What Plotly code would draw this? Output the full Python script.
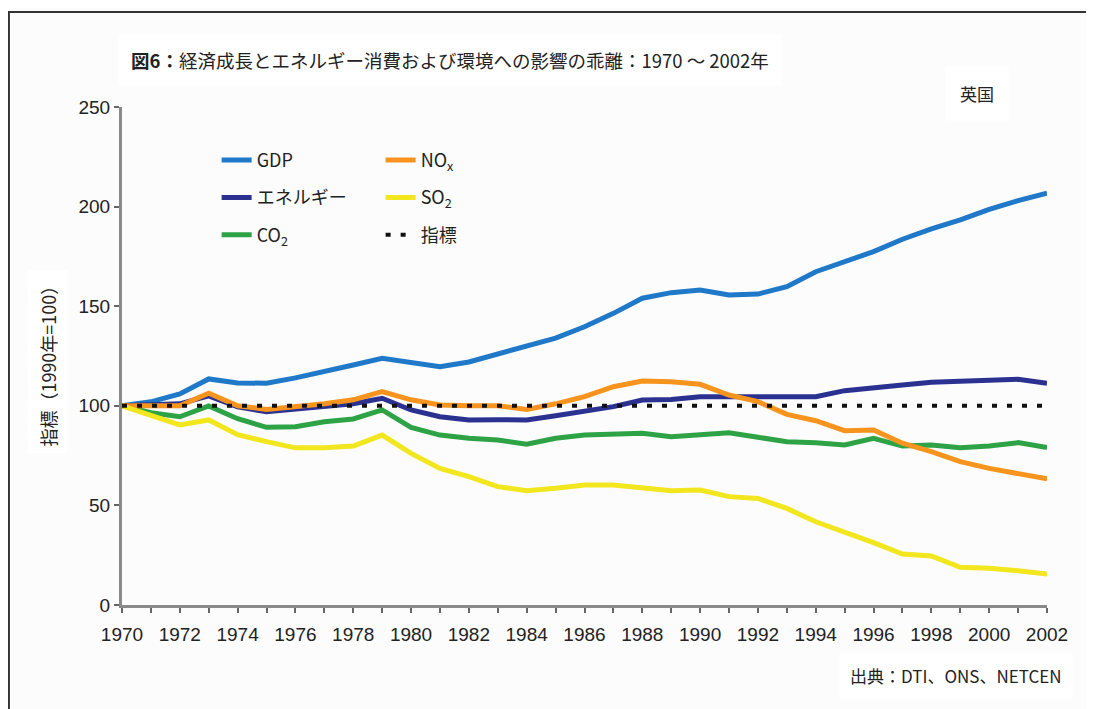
import plotly.graph_objects as go

years = list(range(1970, 2003))

gdp = [100, 102, 106, 113.5, 111.5, 111.3, 114, 117, 120.5, 123.8, 121.5, 119.6, 122, 126, 129.5, 134,
       139.7, 146.4, 154, 156.8, 158.1, 155.6, 156.1, 159.8, 167.3, 172.3, 177.4, 183.6, 188.8, 193.3,
       198.6, 203, 206.7]
energy = [100, 100.5, 101, 105, 99.5, 97, 98.5, 100, 101, 103.8, 97.9, 94.5, 92.9, 93, 92.9, 95,
          97, 99.6, 102.9, 103.2, 104.6, 104.6, 104.3, 104.9, 104.6, 107.6, 109.3, 110.4, 111.8, 112.1,
          113, 113.3, 111.3]
co2 = [100, 96.5, 94.5, 99.9, 93.5, 89.2, 89.5, 92, 93.4, 97.9, 89.2, 85.3, 83.7, 82.8, 80.7, 83.7,
       85.3, 85.8, 86.2, 84.5, 85.8, 86.5, 84.2, 82, 81.5, 80.3, 83.7, 79.8, 80.3, 79, 79.8, 81.5, 79]
nox = [100, 100, 100, 106.3, 100, 98.2, 99.5, 101, 103, 107.1, 103, 100.4, 100, 100, 98.2, 101,
       104.6, 109.6, 112.4, 112.1, 110.8, 105.4, 102.1, 95.7, 92.5, 87.5, 87.9, 81.2, 77, 72, 68.6,
       66.1, 63.3]
so2 = [100, 95, 90.4, 92.9, 85.5, 82, 78.9, 79, 79.8, 85.3, 76.1, 68.6, 64.4, 59.4, 57.4, 58.6,
       60.2, 60.2, 59.1, 57.4, 57.7, 54.4, 53.5, 48.5, 41.8, 36.8, 31.3, 25.6, 24.6, 18.9, 18.4,
       17.2, 15.6]
index_years = [1970, 2002]
index_vals = [100, 100]

x_tick_vals = years
x_tick_text = [str(y) if y % 2 == 0 else "" for y in years]
y_tick_vals = [0, 50, 100, 150, 200, 250]

names = {
    "gdp": "GDP",
    "energy": "エネルギー",
    "co2": "CO<sub>2</sub>",
    "nox": "NO<sub>x</sub>",
    "so2": "SO<sub>2</sub>",
    "index": "指標",
}

JP = "Noto Sans CJK JP"
NUM = "Liberation Sans, Arial, sans-serif"

fig = go.Figure()

def add(x, y, name, color, legend, group, dash="solid", width=5):
    fig.add_trace(go.Scatter(
        x=x, y=y, name=name, mode="lines",
        line=dict(color=color, width=width, dash=dash),
        legend=legend, legendgroup=group,
    ))

add(years, gdp, names["gdp"], "#1f78c8", "legend", "a")
add(years, energy, names["energy"], "#2b3190", "legend", "b")
add(years, co2, names["co2"], "#2ea345", "legend", "c")
add(years, nox, names["nox"], "#f7941d", "legend2", "d")
add(years, so2, names["so2"], "#f2e61e", "legend2", "e")
add(index_years, index_vals, names["index"], "#111111", "legend2", "f", dash="5px,10px", width=4)

legend_common = dict(
    font=dict(family=JP, size=18, color="#222"),
    bgcolor="rgba(0,0,0,0)",
    tracegroupgap=11,
    itemwidth=30,
    xanchor="left", yanchor="top",
    xref="paper", yref="paper",
)

W, H = 1086, 701
L, R, T, B = 114, 47, 99, 104
PW = W - L - R
PH = H - T - B

fig.update_layout(
    width=W, height=H,
    margin=dict(l=L, r=R, t=T, b=B),
    paper_bgcolor="#fcfcfc",
    plot_bgcolor="#fcfcfc",
    showlegend=True,
    legend=dict(x=0.1023, y=0.930, **legend_common),
    legend2=dict(x=0.2796, y=0.930, **legend_common),
    xaxis=dict(
        range=[1970, 2002],
        tickvals=x_tick_vals, ticktext=x_tick_text,
        ticks="outside", ticklen=5, tickwidth=2, tickcolor="#666",
        showline=True, linecolor="#8a8a8a", linewidth=3,
        showgrid=False, zeroline=False,
        tickfont=dict(family=NUM, size=19, color="#222"),
        ticklabelstandoff=5,
    ),
    yaxis=dict(
        range=[0, 250],
        tickvals=y_tick_vals,
        ticks="outside", ticklen=5, tickwidth=2, tickcolor="#666",
        showline=True, linecolor="#8a8a8a", linewidth=3,
        showgrid=False, zeroline=False,
        tickfont=dict(family=NUM, size=19, color="#222"),
    ),
    shapes=[
        dict(type="rect", xref="paper", yref="paper",
             x0=-L / PW + 0.001, x1=1.2, y0=-0.5, y1=1 + (T - 4) / PH,
             line=dict(color="#333", width=2), fillcolor="rgba(0,0,0,0)", layer="below"),
    ],
    annotations=[
        dict(text="<b>図6：</b>経済成長とエネルギー消費および環境への影響の乖離：1970 〜 2002年",
             xref="paper", yref="paper", x=-0.0042, y=1.0936, xanchor="left", yanchor="middle",
             showarrow=False, font=dict(family=JP, size=18.5, color="#222"),
             bgcolor="#ffffff", borderpad=12),
        dict(text="英国", xref="paper", yref="paper", x=0.9247, y=1.027, xanchor="center", yanchor="middle",
             showarrow=False, font=dict(family=JP, size=17, color="#222"),
             bgcolor="#ffffff", borderpad=14),
        dict(text="出典：DTI、ONS、NETCEN", xref="paper", yref="paper", x=1.0281, y=-0.141,
             xanchor="right", yanchor="middle",
             showarrow=False, font=dict(family=JP, size=17, color="#222"),
             bgcolor="#ffffff", borderpad=10),
        dict(text="指標（1990年=100）", xref="paper", yref="paper", x=-0.0804, y=0.488,
             xanchor="center", yanchor="middle", textangle=-90,
             showarrow=False, font=dict(family=JP, size=18, color="#222"),
             bgcolor="#ffffff", borderpad=6),
    ],
)

fig.write_html("out.html")
